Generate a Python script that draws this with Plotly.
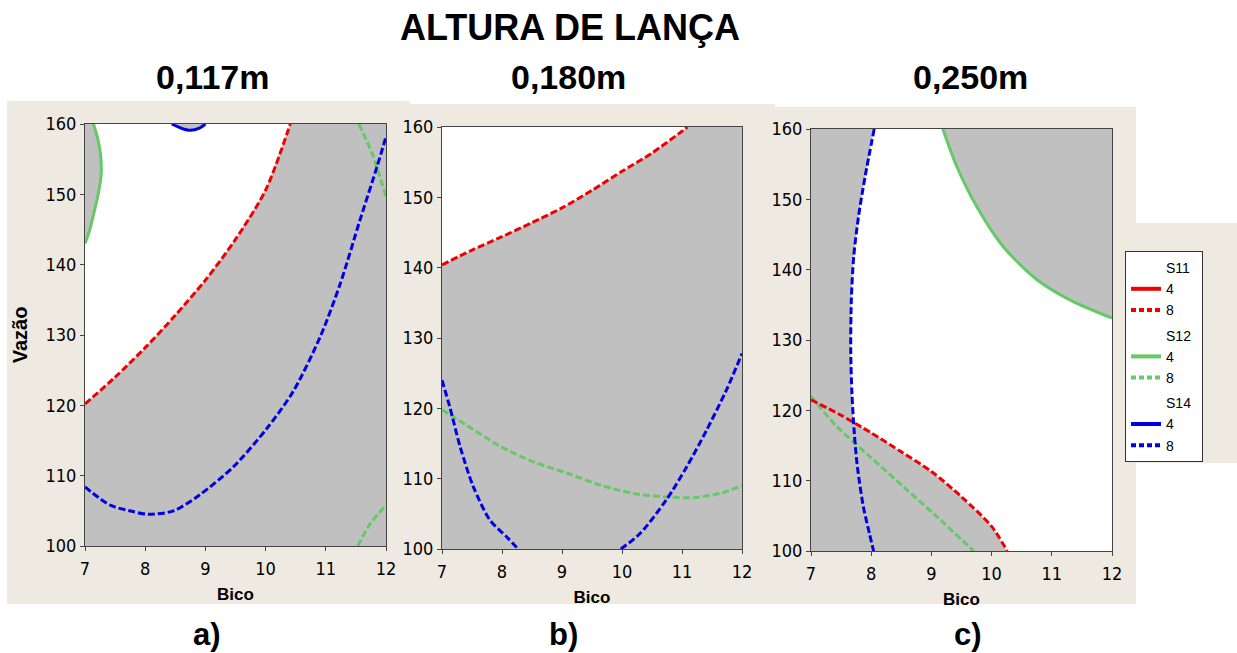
import plotly.graph_objects as go

W, H = 1237, 653

# ---------------- data ----------------
# Panel a) 0,117m
a_s11_8_x = [7.00, 7.50, 8.00, 8.50, 9.00, 9.50, 10.00, 10.41]
a_s11_8_y = [120.2, 124.0, 128.2, 132.8, 137.8, 143.6, 150.6, 160.0]
a_s12_4_x = [7.00, 7.08, 7.16, 7.23, 7.27, 7.26, 7.21, 7.14]
a_s12_4_y = [143.0, 145.0, 147.8, 150.5, 153.0, 155.5, 158.0, 160.0]
a_s12_8_top_x = [11.55, 11.77, 12.00]
a_s12_8_top_y = [160.0, 155.8, 149.7]
a_s12_8_bot_x = [11.53, 11.74, 12.00]
a_s12_8_bot_y = [100.0, 103.2, 105.8]
a_s14_4_x = [8.44, 8.60, 8.75, 8.90, 9.00]
a_s14_4_y = [160.0, 159.4, 159.1, 159.4, 160.0]
a_s14_8_x = [7.00, 7.42, 7.80, 8.05, 8.47, 8.91, 9.47, 10.02, 10.46, 10.91, 11.24, 11.57, 11.85, 12.00]
a_s14_8_y = [108.4, 105.8, 104.9, 104.5, 105.0, 107.3, 111.3, 116.7, 122.0, 129.8, 137.3, 146.4, 153.9, 158.2]

# Panel b) 0,180m
b_s11_8_x = [7.00, 7.50, 8.00, 8.50, 9.00, 9.50, 10.00, 10.50, 11.00, 11.09]
b_s11_8_y = [140.4, 142.5, 144.4, 146.4, 148.5, 151.0, 153.7, 156.3, 159.4, 160.0]
b_s12_8_x = [7.00, 7.41, 7.97, 8.52, 9.08, 9.63, 10.19, 10.74, 11.19, 11.63, 12.00]
b_s12_8_y = [119.8, 117.6, 114.6, 112.4, 110.8, 109.1, 107.9, 107.4, 107.3, 107.9, 109.0]
b_s14_8_l_x = [7.00, 7.13, 7.30, 7.52, 7.80, 8.08, 8.27]
b_s14_8_l_y = [124.0, 120.2, 114.6, 108.9, 104.1, 101.7, 100.0]
b_s14_8_r_x = [9.98, 10.30, 10.74, 11.08, 11.41, 11.74, 12.00]
b_s14_8_r_y = [100.0, 102.2, 107.0, 111.7, 116.9, 122.6, 127.8]

# Panel c) 0,250m
c_s14_8_x = [8.05, 7.90, 7.79, 7.71, 7.67, 7.66, 7.68, 7.72, 7.77, 7.87, 7.97, 8.04]
c_s14_8_y = [160.0, 153.3, 147.6, 141.9, 135.7, 128.6, 122.4, 116.7, 112.0, 106.3, 102.5, 100.0]
c_s11_8_x = [7.00, 7.50, 8.00, 8.50, 9.00, 9.50, 10.00, 10.26]
c_s11_8_y = [121.5, 119.3, 116.8, 114.1, 111.3, 107.7, 103.5, 100.0]
c_s12_8_x = [7.00, 7.43, 7.98, 8.54, 9.09, 9.70]
c_s12_8_y = [122.0, 117.7, 113.4, 109.1, 104.9, 100.0]
c_s12_4_x = [9.19, 9.42, 9.75, 10.19, 10.75, 11.30, 12.00]
c_s12_4_y = [160.0, 154.7, 149.0, 143.3, 138.6, 135.7, 133.1]

x_range = [7, 12]
y_range = [100, 160]
x_ticks = [7, 8, 9, 10, 11, 12]
y_ticks = [100, 110, 120, 130, 140, 150, 160]

main_title = "ALTURA DE LANÇA"
panel_titles = ["0,117m", "0,180m", "0,250m"]
panel_letters = ["a)", "b)", "c)"]

# ---------------- style ----------------
RED = "#f00000"
GREEN = "#66c866"
BLUE = "#0000e6"
GRAY = "#c0c0c0"
BEIGE = "#eeeae1"
DASH = "7px,3px"
LW = 3
TICKFONT = dict(family="Liberation Sans Narrow, DejaVu Sans Condensed, sans-serif", size=18, color="black")
NARROW_BOLD = "Liberation Sans Narrow, Arial Narrow, sans-serif"


def px_x(p):
    return p / W


def px_y(p):
    return 1 - p / H


fig = go.Figure()

# plot areas in pixels: (x0, x1, ytop, ybottom)
areas = [(85, 386, 124, 546), (442, 742, 127, 549), (811, 1112, 129, 551)]
axnames = [("x", "y"), ("x2", "y2"), ("x3", "y3")]


def fill(xs, ys, ax):
    fig.add_trace(go.Scatter(x=xs, y=ys, mode="lines", fill="toself", fillcolor=GRAY,
                             line=dict(width=0), hoverinfo="skip", showlegend=False,
                             xaxis=ax[0], yaxis=ax[1]))


def curve(xs, ys, color, dash, ax):
    fig.add_trace(go.Scatter(x=xs, y=ys, mode="lines",
                             line=dict(color=color, width=LW, dash=dash, shape="spline", smoothing=0.8),
                             showlegend=False, hoverinfo="skip", xaxis=ax[0], yaxis=ax[1]))


# ---- panel a
ax = axnames[0]
fill(a_s11_8_x + [x_range[1], x_range[1], x_range[0]], a_s11_8_y + [y_range[1], y_range[0], y_range[0]], ax)
fill(a_s12_4_x + [x_range[0]], a_s12_4_y + [y_range[1]], ax)
fill(a_s14_4_x, a_s14_4_y, ax)
curve(a_s11_8_x, a_s11_8_y, RED, DASH, ax)
curve(a_s12_4_x, a_s12_4_y, GREEN, "solid", ax)
curve(a_s12_8_top_x, a_s12_8_top_y, GREEN, DASH, ax)
curve(a_s12_8_bot_x, a_s12_8_bot_y, GREEN, DASH, ax)
curve(a_s14_4_x, a_s14_4_y, BLUE, "solid", ax)
curve(a_s14_8_x, a_s14_8_y, BLUE, DASH, ax)

# ---- panel b
ax = axnames[1]
fill(b_s11_8_x + [x_range[1], x_range[1], x_range[0]], b_s11_8_y + [y_range[1], y_range[0], y_range[0]], ax)
curve(b_s11_8_x, b_s11_8_y, RED, DASH, ax)
curve(b_s12_8_x, b_s12_8_y, GREEN, DASH, ax)
curve(b_s14_8_l_x, b_s14_8_l_y, BLUE, DASH, ax)
curve(b_s14_8_r_x, b_s14_8_r_y, BLUE, DASH, ax)

# ---- panel c
ax = axnames[2]
fill(c_s14_8_x + [x_range[0], x_range[0]], c_s14_8_y + [y_range[0], y_range[1]], ax)
fill(c_s11_8_x + [x_range[0]], c_s11_8_y + [y_range[0]], ax)
fill(c_s12_4_x + [x_range[1]], c_s12_4_y + [y_range[1]], ax)
curve(c_s12_8_x, c_s12_8_y, GREEN, DASH, ax)
curve(c_s11_8_x, c_s11_8_y, RED, DASH, ax)
curve(c_s14_8_x, c_s14_8_y, BLUE, DASH, ax)
curve(c_s12_4_x, c_s12_4_y, GREEN, "solid", ax)

# ---- legend entries
legend_items = [("S11", RED), ("S12", GREEN), ("S14", BLUE)]
for grp, col in legend_items:
    for name, dash in [("4", "solid"), ("8", "5px,3px")]:
        fig.add_trace(go.Scatter(x=[None], y=[None], mode="lines", name=name,
                                 line=dict(color=col, width=LW + 1, dash=dash),
                                 legendgroup=grp,
                                 legendgrouptitle=dict(text="\u00a0" * 9 + grp,
                                                       font=dict(size=14, color="black",
                                                                 family="Liberation Sans Narrow, sans-serif")),
                                 xaxis="x3", yaxis="y3"))

layout = dict(
    width=W, height=H, margin=dict(l=0, r=0, t=0, b=0, autoexpand=False),
    paper_bgcolor="white", plot_bgcolor="white",
    legend=dict(x=px_x(1125), y=px_y(251), xanchor="left", yanchor="top",
                bgcolor="white", bordercolor="#333", borderwidth=1,
                font=dict(size=14, family="Liberation Sans Narrow, sans-serif", color="black"),
                traceorder="grouped", tracegroupgap=4, itemwidth=30),
)

for i, (x0, x1, yt, yb) in enumerate(areas):
    xk = "xaxis" if i == 0 else f"xaxis{i+1}"
    yk = "yaxis" if i == 0 else f"yaxis{i+1}"
    anchor_x = "y" if i == 0 else f"y{i+1}"
    anchor_y = "x" if i == 0 else f"x{i+1}"
    layout[xk] = dict(domain=[px_x(x0), px_x(x1)], anchor=anchor_x, range=x_range, automargin=False,
                      tickvals=x_ticks, ticks="outside", ticklen=4, tickcolor="#444",
                      showline=True, linecolor="#444", linewidth=1, mirror=True,
                      showgrid=False, zeroline=False, tickfont=TICKFONT, ticklabelstandoff=2,
                      title=dict(text="<b>Bico</b>", standoff=10,
                                 font=dict(size=17, family=NARROW_BOLD, color="black")))
    layout[yk] = dict(domain=[px_y(yb), px_y(yt)], anchor=anchor_y, range=y_range, automargin=False,
                      tickvals=y_ticks, ticks="outside", ticklen=4, tickcolor="#444",
                      showline=True, linecolor="#444", linewidth=1, mirror=True,
                      showgrid=False, zeroline=False, tickfont=TICKFONT)
layout["yaxis"]["title"] = dict(text="<b>Vazão</b>", standoff=12,
                                font=dict(size=20, family="Liberation Sans, Arial, sans-serif", color="black"))

fig.update_layout(**layout)

# beige backgrounds
beige_boxes = [(7, 101, 410, 604), (410, 104, 775, 604), (775, 107, 1136, 604), (1136, 223, 1237, 463)]
for (bx0, by0, bx1, by1) in beige_boxes:
    fig.add_shape(type="rect", xref="paper", yref="paper", x0=px_x(bx0), x1=px_x(bx1),
                  y0=px_y(by1), y1=px_y(by0), fillcolor=BEIGE, line=dict(width=0), layer="below")
# white plot areas on top of the beige
for xa, ya in axnames:
    fig.add_shape(type="rect", xref=f"{xa} domain", yref=f"{ya} domain", x0=0, x1=1, y0=0, y1=1,
                  fillcolor="white", line=dict(width=0), layer="below")

# titles
fig.add_annotation(text=f"<b>{main_title}</b>", x=px_x(570), y=px_y(28), xref="paper", yref="paper",
                   xanchor="center", yanchor="middle",
                   showarrow=False, font=dict(size=36, family=NARROW_BOLD, color="black"))
for t, cx in zip(panel_titles, [212, 568, 970]):
    fig.add_annotation(text=f"<b>{t}</b>", x=px_x(cx), y=px_y(77), xref="paper", yref="paper",
                       xanchor="center", yanchor="middle",
                       showarrow=False, font=dict(size=34, family=NARROW_BOLD, color="black"))
for t, cx in zip(panel_letters, [207, 563, 968]):
    fig.add_annotation(text=f"<b>{t}</b>", x=px_x(cx), y=px_y(634), xref="paper", yref="paper",
                       xanchor="center", yanchor="middle",
                       showarrow=False, font=dict(size=31, family="Liberation Sans, Arial, sans-serif", color="black"))

fig.write_html("out.html")
